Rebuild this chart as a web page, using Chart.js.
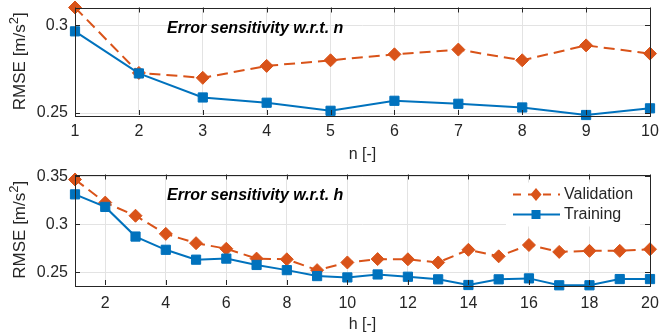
<!DOCTYPE html>
<html>
<head>
<meta charset="utf-8">
<script src="https://cdn.jsdelivr.net/npm/chart.js@4.4.1/dist/chart.umd.min.js"></script>
<style>
  body { margin: 0; background: #fff; }
  canvas { position: absolute; left: 0; }
  #chart_n { top: 0; }
  #chart_h { top: 167px; }
</style>
</head>
<body>
<canvas id="chart_n" width="660" height="167"></canvas>
<canvas id="chart_h" width="660" height="167"></canvas>
<script>
// data
const nValues = [1, 2, 3, 4, 5, 6, 7, 8, 9, 10];
const valN = [0.3102, 0.2729, 0.2701, 0.2769, 0.2801, 0.2835, 0.2862, 0.2801, 0.2886, 0.2839];
const trainN = [0.2966, 0.2726, 0.2589, 0.2559, 0.2513, 0.2570, 0.2553, 0.2532, 0.2489, 0.2527];

const hValues = [1, 2, 3, 4, 5, 6, 7, 8, 9, 10, 11, 12, 13, 14, 15, 16, 17, 18, 19, 20];
const valH = [0.3466, 0.3225, 0.3088, 0.2899, 0.2802, 0.2744, 0.2641, 0.2634, 0.2521, 0.2601,
              0.2636, 0.2634, 0.2601, 0.2733, 0.2665, 0.2783, 0.2711, 0.2722, 0.2722, 0.2739];
const trainH = [0.3311, 0.3180, 0.2871, 0.2733, 0.2630, 0.2641, 0.2575, 0.2521, 0.2459, 0.2445,
                0.2476, 0.2452, 0.2425, 0.2366, 0.2425, 0.2435, 0.2363, 0.2363, 0.2428, 0.2428];

const nTicks = [1, 2, 3, 4, 5, 6, 7, 8, 9, 10];
const hTicks = [2, 4, 6, 8, 10, 12, 14, 16, 18, 20];
const yTicksN = [0.25, 0.3];
const yTicksH = [0.25, 0.3, 0.35];

const BLUE = '#0072BD';
const ORANGE = '#D95319';
const AXIS = '#262626';
const GRID = '#e3e3e3';
const FONT = "'Liberation Sans', Arial, sans-serif";
const DASH = [11, 6];

Chart.defaults.font.family = FONT;
Chart.defaults.font.size = 16;
Chart.defaults.color = AXIS;

function pts(xs, ys) {
  return xs.map((x, i) => ({ x: x, y: ys[i] }));
}

function datasets(xs, val, train) {
  return [{
    label: 'Validation',
    data: pts(xs, val),
    borderColor: ORANGE,
    backgroundColor: ORANGE,
    borderWidth: 2,
    borderDash: DASH,
    pointStyle: 'rectRot',
    pointRadius: 6.5,
    pointBorderWidth: 1,
    clip: false,
    order: 1
  }, {
    label: 'Training',
    data: pts(xs, train),
    borderColor: BLUE,
    backgroundColor: BLUE,
    borderWidth: 2,
    pointStyle: 'rect',
    pointRadius: 6.5,
    pointBorderWidth: 1,
    clip: false,
    order: 0
  }];
}

function noPad(s) {
  s.paddingTop = 0; s.paddingBottom = 0; s.paddingLeft = 0; s.paddingRight = 0;
}

// box, inward tick marks, y label with superscript, note and legend
const boxPlugin = {
  id: 'box',
  afterDraw(chart, args, opts) {
    const c = chart.ctx;
    const a = chart.chartArea;
    const xs = chart.scales.x, ys = chart.scales.y;
    c.save();
    c.strokeStyle = AXIS;
    c.lineWidth = 1;
    c.strokeRect(Math.round(a.left) + 0.5, Math.round(a.top) + 0.5,
                 Math.round(a.right - a.left), Math.round(a.bottom - a.top));
    c.beginPath();
    xs.ticks.forEach(t => {
      const px = Math.round(xs.getPixelForValue(t.value)) + 0.5;
      c.moveTo(px, a.bottom); c.lineTo(px, a.bottom - 5);
      c.moveTo(px, a.top); c.lineTo(px, a.top + 5);
    });
    ys.ticks.forEach(t => {
      const py = Math.round(ys.getPixelForValue(t.value)) + 0.5;
      c.moveTo(a.left, py); c.lineTo(a.left + 5, py);
      c.moveTo(a.right, py); c.lineTo(a.right - 5, py);
    });
    c.stroke();

    // y axis label: RMSE [m/s^2]
    c.save();
    c.translate(25, (a.top + a.bottom) / 2);
    c.rotate(-Math.PI / 2);
    c.fillStyle = AXIS;
    c.textBaseline = 'alphabetic';
    c.textAlign = 'left';
    const big = '17px ' + FONT, small = '13px ' + FONT;
    c.font = big;
    const w1 = c.measureText('RMSE [m/s').width;
    const w3 = c.measureText(']').width;
    c.font = small;
    const w2 = c.measureText('2').width;
    let x0 = -(w1 + w2 + w3) / 2;
    c.font = big; c.fillText('RMSE [m/s', x0, 0);
    c.font = small; c.fillText('2', x0 + w1, -7);
    c.font = big; c.fillText(']', x0 + w1 + w2, 0);
    c.restore();

    c.fillStyle = '#000';
    c.font = 'italic bold 16px ' + FONT;
    c.textBaseline = 'middle';
    c.textAlign = 'left';
    c.fillText(opts.note, 167, opts.noteY);

    if (opts.legend) {
      const lx = 513, rx = 560, mx = 536;
      const y1 = a.top + 20, y2 = a.top + 40;
      c.fillStyle = '#fff';
      c.fillRect(506, a.top + 8, 134, 44);
      // validation sample
      c.strokeStyle = ORANGE;
      c.lineWidth = 2;
      c.setLineDash([8, 7]);
      c.beginPath(); c.moveTo(lx, y1); c.lineTo(rx, y1); c.stroke();
      c.setLineDash([]);
      c.fillStyle = ORANGE;
      c.beginPath();
      c.moveTo(mx, y1 - 6.5); c.lineTo(mx + 5.5, y1); c.lineTo(mx, y1 + 6.5); c.lineTo(mx - 5.5, y1);
      c.closePath(); c.fill();
      // training sample
      c.strokeStyle = BLUE;
      c.beginPath(); c.moveTo(lx, y2); c.lineTo(rx, y2); c.stroke();
      c.fillStyle = BLUE;
      c.fillRect(mx - 4.5, y2 - 4.5, 9, 9);
      c.fillStyle = AXIS;
      c.font = '16px ' + FONT;
      c.fillText('Validation', 564, y1);
      c.fillText('Training', 564, y2);
    }
    c.restore();
  }
};

function makeChart(id, xs, val, train, cfg) {
  return new Chart(document.getElementById(id), {
    type: 'line',
    data: { datasets: datasets(xs, val, train) },
    plugins: [boxPlugin],
    options: {
      responsive: false,
      animation: false,
      layout: { padding: { top: cfg.padTop, right: 10, left: 0, bottom: 0 } },
      plugins: {
        legend: { display: false },
        tooltip: { enabled: false },
        box: { note: cfg.note, noteY: cfg.noteY, legend: cfg.legend }
      },
      scales: {
        x: {
          type: 'linear',
          min: cfg.xMin,
          max: cfg.xMax,
          afterBuildTicks: s => { s.ticks = cfg.xTicks.map(v => ({ value: v })); },
          afterFit: s => { s.height = cfg.xHeight; noPad(s); },
          grid: { color: GRID, drawTicks: false },
          border: { display: false },
          ticks: { padding: cfg.xPad, color: AXIS, maxRotation: 0, callback: v => String(v) },
          title: { display: true, text: cfg.xTitle, color: AXIS, padding: { top: 0, bottom: cfg.titlePad } }
        },
        y: {
          min: cfg.yMin,
          max: cfg.yMax,
          afterBuildTicks: s => { s.ticks = cfg.yTicks.map(v => ({ value: v })); },
          afterFit: s => { s.width = 75; noPad(s); },
          grid: { color: GRID, drawTicks: false },
          border: { display: false },
          ticks: { padding: 7, color: AXIS, callback: v => String(+v.toFixed(2)) }
        }
      }
    }
  });
}

makeChart('chart_n', nValues, valN, trainN, {
  padTop: 7, xHeight: 52, xPad: 7, titlePad: 3,
  xMin: 1, xMax: 10, xTicks: nTicks, xTitle: 'n [-]',
  yMin: 0.2489, yMax: 0.3102, yTicks: yTicksN,
  note: 'Error sensitivity w.r.t. n', noteY: 29, legend: false
});

makeChart('chart_h', hValues, valH, trainH, {
  padTop: 6, xHeight: 49, xPad: 9, titlePad: 0,
  xMin: 1, xMax: 20, xTicks: hTicks, xTitle: 'h [-]',
  yMin: 0.2366, yMax: 0.3518, yTicks: yTicksH,
  note: 'Error sensitivity w.r.t. h', noteY: 29, legend: true
});
</script>
</body>
</html>
